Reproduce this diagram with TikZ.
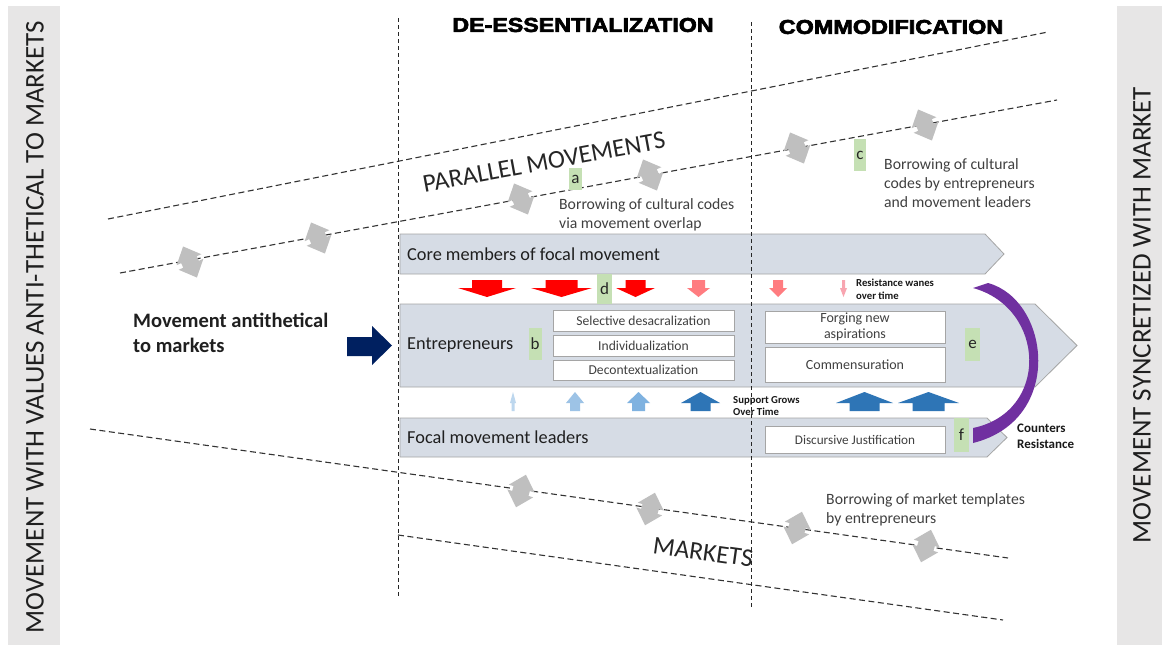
\documentclass[tikz,border=0pt]{standalone}
\usepackage{fontspec}
\usepackage{graphicx}
\setmainfont{Carlito}
\newfontfamily\headfont[FakeBold=3]{Liberation Sans Bold}
\definecolor{sidegray}{HTML}{E7E6E6}
\definecolor{bandfill}{HTML}{D6DCE5}
\definecolor{bandline}{HTML}{A5A5A5}
\definecolor{tagfill}{HTML}{C5E0B4}
\definecolor{arrgray}{HTML}{BFBFBF}
\definecolor{txtgray}{HTML}{404040}
\definecolor{redA}{HTML}{FF0000}
\definecolor{pinkA}{HTML}{FF7C80}
\definecolor{pinkB}{HTML}{F8A5B0}
\definecolor{blueA}{HTML}{BDD7EE}
\definecolor{blueB}{HTML}{9DC3E6}
\definecolor{blueC}{HTML}{7FB2E0}
\definecolor{blueD}{HTML}{2E75B6}
\definecolor{navyA}{HTML}{002060}
\definecolor{purpA}{HTML}{7030A0}
\newcommand\fsz[2]{\fontsize{#1}{#2}\selectfont}
\newcommand\grayarr[3]{\fill[arrgray, shift={(#1,#2)}, rotate=#3] (0,-17) -- (13.5,-2.5) -- (8.5,-2.5) -- (8.5,2.5) -- (13.5,2.5) -- (0,17) -- (-13.5,2.5) -- (-8.5,2.5) -- (-8.5,-2.5) -- (-13.5,-2.5) -- cycle;}
\newcommand\mkdown[4]{\fill[#4] (#1-#2,280) -- (#1+#2,280) -- (#1+#2,288) -- (#1+#3,288) -- (#1,297) -- (#1-#3,288) -- (#1-#2,288) -- cycle;}
\newcommand\mkup[4]{\fill[#4] (#1,392) -- (#1+#3,403) -- (#1+#2,403) -- (#1+#2,411) -- (#1-#2,411) -- (#1-#2,403) -- (#1-#3,403) -- cycle;}
\begin{document}
\begin{tikzpicture}[x=1pt,y=-1pt,
  txt/.style={inner sep=0pt, text=black!88},
  small/.style={inner sep=0pt, text=txtgray, align=left, font=\fsz{15.7}{19}},
  band/.style={fill=bandfill, draw=bandline, line width=0.8pt},
  tag/.style={fill=tagfill, inner sep=0pt, font=\fsz{17}{20}, text=black!85},
  wbox/.style={fill=white, draw=bandline, line width=0.8pt, inner sep=0pt, align=center, text=txtgray},
  pline/.style={dash pattern=on 6pt off 3.5pt, line width=1.1pt, black!80},
  vline/.style={dash pattern=on 4pt off 3pt, line width=0.9pt, black!85},
  note/.style={inner sep=0pt, align=left, font=\bfseries\fsz{10.7}{12.5}, text=black!90}]
\useasboundingbox (0,0) rectangle (1162,648);
\fill[white] (0,0) rectangle (1162,648);
% side bars
\fill[sidegray] (8,6) rectangle (60,645);
\fill[sidegray] (1117,6) rectangle (1162,645);
\node[txt, rotate=90, font=\fsz{27}{30}] (lefttitle) at (35,327) {MOVEMENT WITH VALUES ANTI-THETICAL TO MARKETS};
\node[txt, rotate=90, font=\fsz{27}{30}] (righttitle) at (1142,315) {MOVEMENT SYNCRETIZED WITH MARKET};
% diagonal dashed lines
\draw[pline] (108,219) -- (1048,32);
\draw[pline] (120,273) -- (1057,100);
\draw[pline] (90,429) -- (1008,558);
\draw[pline] (398,535) -- (1003,620);
% gray double arrows
\grayarr{190}{262}{24}
\grayarr{318}{238}{24}
\grayarr{521}{199}{24}
\grayarr{650}{175}{24}
\grayarr{797}{148}{24}
\grayarr{925}{125}{24}
\grayarr{521}{491}{-17}
\grayarr{650}{509}{-17}
\grayarr{797}{528}{-17}
\grayarr{926}{546}{-17}
% region labels
\node[txt, rotate=10.5, font=\fsz{25.6}{30}, text=black!85] (parallel) at (544,162) {PARALLEL MOVEMENTS};
\node[txt, rotate=-8, font=\fsz{25.6}{30}, text=black!85] (markets) at (703,552) {MARKETS};
% headings
\node[txt, font=\headfont\fsz{20}{24}, text=black] (deess) at (583,25) {\scalebox{1.16}[1]{DE-ESSENTIALIZATION}};
\node[txt, font=\headfont\fsz{20}{24}, text=black] (commod) at (891,27) {\scalebox{1.17}[1]{COMMODIFICATION}};
% bands
\path[band] (400,234) -- (985,234) -- (1004,254) -- (985,274) -- (400,274) -- cycle;
\path[band] (400,304) -- (1035,304) -- (1077,345.5) -- (1035,387) -- (400,387) -- cycle;
\path[band] (400,418) -- (987,418) -- (1007,437.5) -- (987,457) -- (400,457) -- cycle;
\node[txt, anchor=west, font=\fsz{18.3}{20}] (core) at (407,254) {Core members of focal movement};
\node[txt, anchor=west, font=\fsz{18.3}{20}] (entre) at (407,345.5) {Entrepreneurs};
\node[txt, anchor=west, font=\fsz{18.3}{20}] (leaders) at (407,437.5) {Focal movement leaders};
% white boxes
\node[wbox, minimum width=181pt, minimum height=21pt, font=\fsz{13.6}{15}] (selective) at (643.5,320.5) {Selective desacralization};
\node[wbox, minimum width=181pt, minimum height=21pt, font=\fsz{13.6}{15}] (indiv) at (643.5,345.5) {Individualization};
\node[wbox, minimum width=181pt, minimum height=20pt, font=\fsz{13.6}{15}] (decont) at (643.5,370) {Decontextualization};
\node[wbox, minimum width=180pt, minimum height=32pt, font=\fsz{14}{16.5}] (forging) at (855,327) {Forging new\\aspirations};
\node[wbox, minimum width=180pt, minimum height=35pt, font=\fsz{14}{16}] (commens) at (855,364.5) {Commensuration};
\node[wbox, minimum width=180pt, minimum height=27pt, font=\fsz{13.2}{16}] (discurs) at (855,439.5) {Discursive Justification};
% tags
\node[tag, minimum width=13pt, minimum height=22pt] (taga) at (575.5,179) {a};
\node[tag, minimum width=13pt, minimum height=32pt] (tagb) at (535,344) {b};
\node[tag, minimum width=12pt, minimum height=32pt] (tagc) at (860,155) {c};
\node[tag, minimum width=15pt, minimum height=30pt] (tagd) at (604.5,289) {d};
\node[tag, minimum width=15pt, minimum height=33pt] (tage) at (972.5,344.5) {e};
\node[tag, minimum width=15pt, minimum height=34pt] (tagf) at (961.5,435) {f};
% vertical dashed lines
\draw[vline] (398,18) -- (398,598);
\draw[vline] (751,22) -- (751,608);
% down arrows (resistance)
\mkdown{487}{15}{29}{redA}
\mkdown{561.5}{16}{30.5}{redA}
\mkdown{635.5}{10}{19.5}{redA}
\mkdown{698.5}{6.5}{11.5}{pinkA}
\mkdown{778}{5}{9}{pinkA}
\mkdown{843.5}{1.5}{3.5}{pinkB}
% up arrows (support)
\mkup{513}{1.5}{3}{blueA}
\mkup{575}{5}{9}{blueB}
\mkup{638.5}{6.5}{11.5}{blueC}
\mkup{700.5}{10}{19.5}{blueD}
\mkup{864.5}{15}{28.5}{blueD}
\mkup{928.5}{16}{30.5}{blueD}
% notes
\node[note, anchor=west] (wanes) at (856,289.5) {Resistance wanes\\over time};
\node[note, anchor=west] (grows) at (733,406) {Support Grows\\Over Time};
\node[note, anchor=west, font=\bfseries\fsz{13}{16}] (counters) at (1017,436) {Counters\\Resistance};
% borrowing texts
\node[small, anchor=west] (borrowa) at (559,214.5) {Borrowing of cultural codes\\via movement overlap};
\node[small, anchor=west] (borrowc) at (884,183) {Borrowing of cultural\\codes by entrepreneurs\\and movement leaders};
\node[small, anchor=west] (borrowm) at (826,509.5) {Borrowing of market templates\\by entrepreneurs};
% antithetical movement
\node[txt, anchor=west, align=left, font=\bfseries\fsz{20.5}{25}] (anti) at (133,332.5) {Movement antithetical\\to markets};
\fill[navyA] (347,337) -- (372,337) -- (372,326) -- (392,345.5) -- (372,365) -- (372,356) -- (347,356) -- cycle;
% purple crescent
\fill[purpA] (973,288) -- (988,283) .. controls (1050,300) and (1065,420) .. (973,443) -- (973,428) .. controls (1050,412) and (1046,308) .. (973,288) -- cycle;
\end{tikzpicture}
\end{document}
